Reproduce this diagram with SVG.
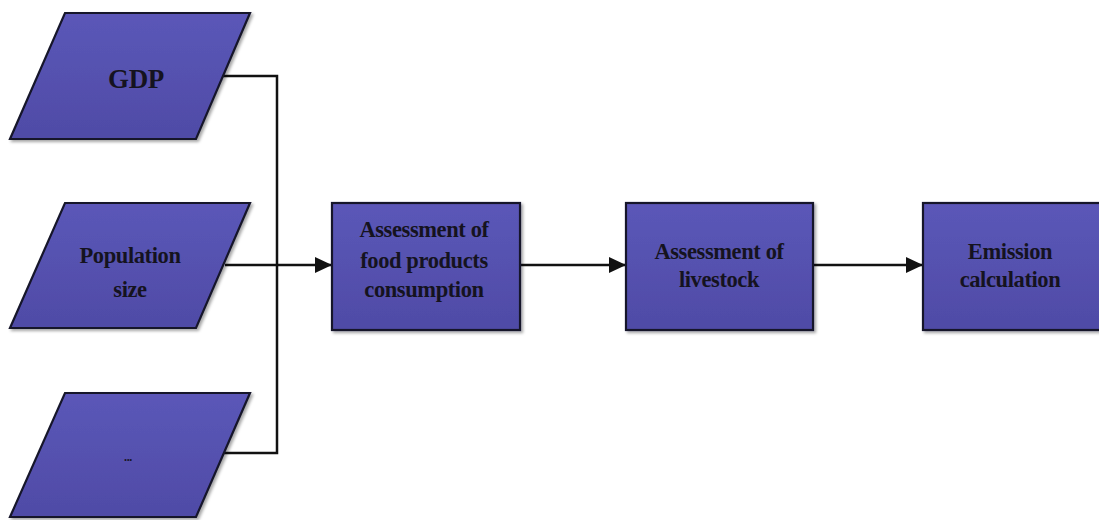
<svg xmlns="http://www.w3.org/2000/svg" width="1099" height="520" viewBox="0 0 1099 520">
<defs>
<linearGradient id="g" x1="0" y1="0" x2="0" y2="1">
<stop offset="0" stop-color="#5b57b8"/>
<stop offset="1" stop-color="#4f4ba6"/>
</linearGradient>
<filter id="sh" x="-10%" y="-10%" width="130%" height="130%">
<feDropShadow dx="2" dy="2" stdDeviation="1.5" flood-color="#000" flood-opacity="0.35"/>
</filter>
<marker id="ah" markerWidth="18" markerHeight="18" refX="16" refY="9" orient="auto" markerUnits="userSpaceOnUse" viewBox="0 0 18 18">
<path d="M0,1 L17,9 L0,17 z" fill="#111"/>
</marker>
</defs>
<style>
.n{fill:url(#g);stroke:#15152a;stroke-width:2.2;filter:url(#sh)}
.t{font-family:"Liberation Serif",serif;font-size:22.5px;font-weight:bold;fill:#15131f;text-anchor:middle;letter-spacing:-0.4px}
.c{fill:none;stroke:#111;stroke-width:2.5}
</style>
<rect width="1099" height="520" fill="#fff"/>
<g id="connectors">
<polyline class="c" points="222,76 277,76 277,453 222,453"/>
<line class="c" x1="225" y1="265" x2="331" y2="265" marker-end="url(#ah)"/>
<line class="c" x1="520" y1="265" x2="625" y2="265" marker-end="url(#ah)"/>
<line class="c" x1="813" y1="265" x2="922" y2="265" marker-end="url(#ah)"/>
</g>
<g id="gdp">
<polygon class="n" points="65,13 250,13 196,139 10,139"/>
<text class="t" x="136" y="88" style="font-size:27px">GDP</text>
</g>
<g id="population">
<polygon class="n" points="65,203 250,203 196,328 10,328"/>
<text class="t" x="130" y="263">Population</text>
<text class="t" x="130" y="297">size</text>
</g>
<g id="other">
<polygon class="n" points="65,393 250,393 196,517 10,517"/>
<text class="t" x="128" y="461" style="font-size:12px">...</text>
</g>
<g id="food">
<rect class="n" x="332" y="203" width="188" height="127"/>
<text class="t" x="424" y="237">Assessment of</text>
<text class="t" x="424" y="268">food products</text>
<text class="t" x="424" y="297">consumption</text>
</g>
<g id="livestock">
<rect class="n" x="626" y="203" width="187" height="127"/>
<text class="t" x="719" y="259">Assessment of</text>
<text class="t" x="719" y="287">livestock</text>
</g>
<g id="emission">
<rect class="n" x="923" y="203" width="190" height="127"/>
<text class="t" x="1010" y="259">Emission</text>
<text class="t" x="1010" y="287">calculation</text>
</g>
</svg>
